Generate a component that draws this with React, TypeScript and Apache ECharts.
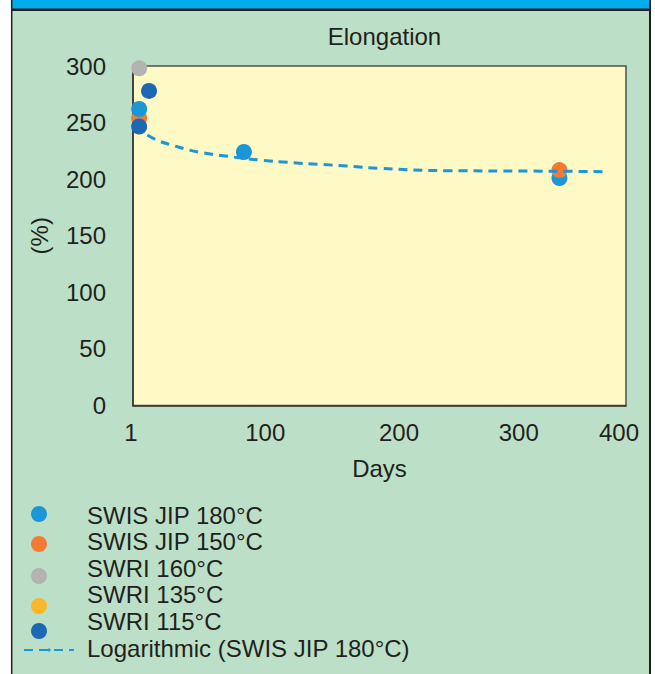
import React, { useEffect, useRef } from 'react';
import * as echarts from 'echarts';

const TITLE = 'Elongation';
const X_NAME = 'Days';
const Y_NAME = '(%)';

const xTickValues = [0, 100, 200, 300, 400];
const xTickLabels = ['1', '100', '200', '300', '400'];

const N180 = 'SWIS JIP 180°C';
const N150 = 'SWIS JIP 150°C';
const N160 = 'SWRI 160°C';
const N135 = 'SWRI 135°C';
const N115 = 'SWRI 115°C';
const NLOG = 'Logarithmic (SWIS JIP 180°C)';

const swisJip180: number[][] = [[5, 262], [90, 224], [346, 201]];
const swisJip150: number[][] = [[5, 254], [346, 208]];
const swri160: number[][] = [[5, 298]];
const swri135: number[][] = [];
const swri115: number[][] = [[13, 278], [5, 246.5]];
const logTrend: number[][] = [
  [11.6, 239.0], [20.5, 234.0], [31.4, 230.2], [42.2, 226.7], [54.4, 223.7],
  [73.3, 220.7], [103.0, 216.9], [130.1, 214.5], [151.7, 213.1], [173.4, 211.6],
  [200.4, 209.6], [254.5, 207.5], [319.4, 207.2], [384.8, 206.6],
];

const C180 = '#1b96d6';
const C150 = '#f37a32';
const C160 = '#b3b3b3';
const C135 = '#fcb62c';
const C115 = '#1c68b3';

const FONT = '"Liberation Sans", Arial, Helvetica, sans-serif';
const TXT = '#231f20';

export default function App() {
  const ref = useRef<HTMLDivElement>(null);
  useEffect(() => {
    if (!ref.current) return;
    const chart = echarts.init(ref.current, undefined, { renderer: 'svg' });
    const fs = 24;
    const richTick = (pad: number[]) => ({ fontSize: fs, color: TXT, fontFamily: FONT, padding: pad });
    const iconLegend = (name: string, cx: number, cy: number, w = 16, h = 16) => ({
      data: [name],
      left: cx - w / 2,
      top: cy - h / 2,
      padding: 0,
      itemWidth: w,
      itemHeight: h,
      formatter: () => '',
      textStyle: { fontSize: 1 },
      selectedMode: false,
    });
    const dot = (color: string) => ({ color, opacity: 1 });
    const option: any = {
      animation: false,
      backgroundColor: '#bce0c7',
      textStyle: { fontFamily: FONT },
      title: {
        text: TITLE,
        left: 379.5,
        top: 19,
        textAlign: 'center',
        textStyle: { fontSize: fs, fontWeight: 'normal', color: TXT, fontFamily: FONT },
      },
      legend: [
        {
          data: [N180, N150, N160, N135, N115, NLOG],
          orient: 'vertical',
          left: 72,
          top: 503,
          padding: 0,
          itemGap: 2.6,
          itemWidth: 10,
          itemHeight: 10,
          icon: 'none',
          selectedMode: false,
          textStyle: { fontSize: fs, color: TXT, fontFamily: FONT, lineHeight: 24 },
        },
        iconLegend(N180, 39, 514),
        iconLegend(N150, 39, 544),
        iconLegend(N160, 39, 576),
        iconLegend(N135, 39, 606),
        iconLegend(N115, 39, 631),
        iconLegend(NLOG, 48, 650, 50, 4),
      ],
      grid: {
        left: 133,
        top: 66,
        width: 493,
        height: 339.5,
        show: true,
        backgroundColor: '#fff9c5',
        borderColor: '#4f4f4f',
        borderWidth: 1.5,
      },
      xAxis: {
        type: 'value',
        min: 0,
        max: 400,
        interval: 100,
        name: X_NAME,
        nameLocation: 'middle',
        nameGap: 51,
        nameTextStyle: { fontSize: fs, color: TXT, fontFamily: FONT },
        axisLine: { show: true, lineStyle: { color: '#333', width: 1.5 } },
        axisTick: { show: false },
        splitLine: { show: false },
        axisLabel: {
          margin: 15,
          showMinLabel: true,
          showMaxLabel: true,
          fontSize: fs,
          color: TXT,
          fontFamily: FONT,
          formatter: (v: number) => {
            const i = xTickValues.indexOf(v);
            return i < 0 ? '' : `{t${i}|${xTickLabels[i]}}`;
          },
          rich: {
            t0: richTick([0, 4, 0, 0]),
            t1: richTick([0, 0, 0, 18]),
            t2: richTick([0, 0, 0, 39]),
            t3: richTick([0, 0, 0, 32]),
            t4: richTick([0, 14, 0, 0]),
          },
        },
      },
      yAxis: {
        type: 'value',
        min: 0,
        max: 300,
        interval: 50,
        name: Y_NAME,
        nameLocation: 'middle',
        nameGap: 82,
        nameTextStyle: { fontSize: fs, color: TXT, fontFamily: FONT },
        axisLine: { show: true, lineStyle: { color: '#333', width: 1.5 } },
        axisTick: { show: false },
        splitLine: { show: false },
        axisLabel: { margin: 27, fontSize: fs, color: TXT, fontFamily: FONT },
      },
      series: [
        { name: N180, type: 'scatter', symbolSize: 16, z: 3, itemStyle: dot(C180), data: swisJip180.slice(0, 2) },
        { name: N150, type: 'scatter', symbolSize: 16, z: 2, itemStyle: dot(C150), data: swisJip150 },
        { name: N180, type: 'scatter', symbolSize: 16, z: 1, itemStyle: dot(C180), data: swisJip180.slice(2) },
        { name: N160, type: 'scatter', symbolSize: 16, z: 3, itemStyle: dot(C160), data: swri160 },
        { name: N135, type: 'scatter', symbolSize: 16, z: 3, itemStyle: dot(C135), data: swri135 },
        { name: N115, type: 'scatter', symbolSize: 16, z: 3, itemStyle: dot(C115), data: swri115 },
        {
          name: NLOG,
          type: 'line',
          smooth: true,
          symbol: 'none',
          z: 2.5,
          itemStyle: { color: C180 },
          lineStyle: { color: C180, width: 3, type: [9, 6] },
          data: logTrend,
        },
      ],
      graphic: [
        { type: 'rect', shape: { x: 0, y: 0, width: 11, height: 674 }, style: { fill: '#ffffff' }, silent: true },
        { type: 'rect', shape: { x: 651, y: 0, width: 4, height: 674 }, style: { fill: '#ffffff' }, silent: true },
        { type: 'rect', shape: { x: 11, y: 0, width: 640, height: 9 }, style: { fill: '#00aeef' }, silent: true },
        { type: 'line', shape: { x1: 11, y1: 9.7, x2: 651, y2: 9.7 }, style: { stroke: TXT, lineWidth: 2.6 }, silent: true },
        { type: 'line', shape: { x1: 11.7, y1: 0, x2: 11.7, y2: 674 }, style: { stroke: TXT, lineWidth: 1.5 }, silent: true },
        { type: 'line', shape: { x1: 650, y1: 0, x2: 650, y2: 674 }, style: { stroke: TXT, lineWidth: 2 }, silent: true },
      ],
    };
    chart.setOption(option);
    return () => chart.dispose();
  }, []);
  return (
    <div
      ref={ref}
      style={{ position: 'absolute', left: 0, top: 0, width: 655, height: 674 }}
    />
  );
}
